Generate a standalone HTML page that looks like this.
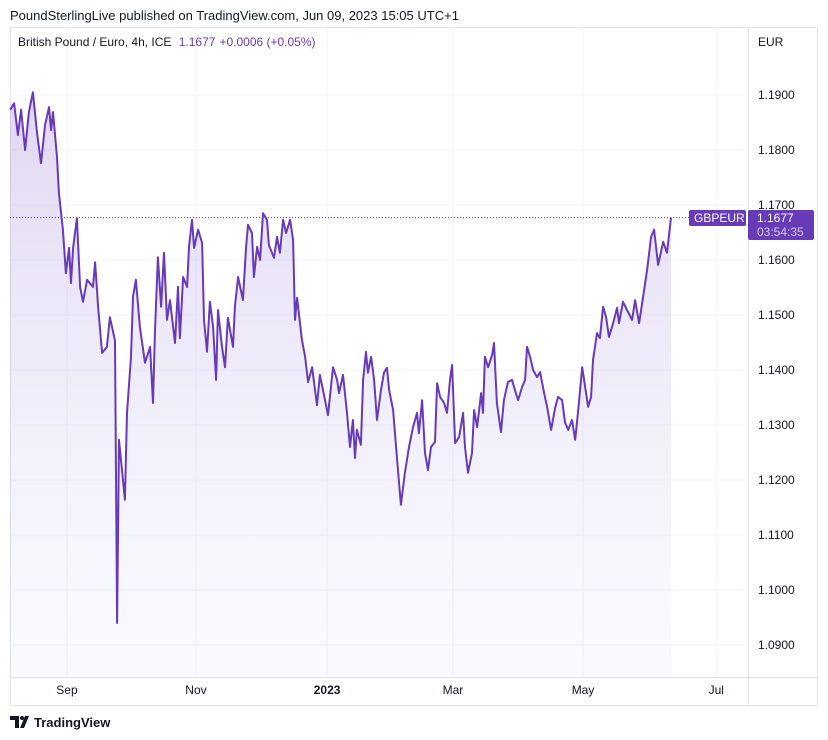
<!DOCTYPE html>
<html><head><meta charset="utf-8"><style>
body{margin:0;background:#fff;width:828px;height:740px;overflow:hidden;font-family:"Liberation Sans",sans-serif}
svg{position:absolute;left:0;top:0}
</style></head><body>
<svg width="828" height="740" id="c">
<text x="10" y="20" font-size="13" fill="#131722">PoundSterlingLive published on TradingView.com, Jun 09, 2023 15:05 UTC+1</text>
<rect x="10.5" y="27.5" width="807" height="678" fill="none" stroke="#e0e3eb"/>
<line x1="748.5" y1="28" x2="748.5" y2="705" stroke="#e0e3eb"/>
<line x1="10" y1="677.5" x2="818" y2="677.5" stroke="#e0e3eb"/>
<g id="grid"></g>
<g id="plot"></g>
<text x="18" y="46" font-size="12" fill="#131722">British Pound / Euro, 4h, ICE <tspan fill="#673ab7" dx="4">1.1677</tspan><tspan fill="#673ab7" dx="4">+0.0006 (+0.05%)</tspan></text>
<text x="758" y="46" font-size="12" fill="#131722">EUR</text>
<g id="yt"></g><g id="xt"></g>
<rect x="689" y="210" width="57" height="16" rx="2" fill="#673ab7"/>
<text x="694" y="222" font-size="12" fill="#fff">GBPEUR</text>
<rect x="748" y="210" width="66" height="30" rx="2" fill="#673ab7"/>
<text x="757" y="222" font-size="12" fill="#fff">1.1677</text>
<text x="757" y="236" font-size="12" fill="#d9ccf0">03:54:35</text>
<g><path d="M10 716h9v12h-4v-8h-5z M20 728l5-12h4l-5 12z" fill="#131722"/><circle cx="22" cy="718" r="2" fill="#131722"/>
<text x="34" y="727" font-size="13" font-weight="bold" fill="#131722">TradingView</text></g>
</svg>
<script>
const days=[4.1,6.0,7.8,9.3,11.2,13.0,14.9,16.8,18.7,20.6,22.5,23.5,24.4,26.3,27.2,29.1,30.5,32.0,32.9,33.9,35.7,37.2,38.6,40.5,43.3,44.3,45.7,47.6,49.9,51.3,53.7,54.7,55.6,58.4,59.4,61.3,62.2,63.6,65.5,67.9,70.3,71.7,72.6,74.0,75.5,76.9,78.3,79.7,82.1,83.5,84.4,85.9,87.8,88.7,90.1,91.1,93.0,94.9,95.8,97.2,98.6,100.1,101.5,102.4,104.3,105.7,107.1,109.5,110.4,111.9,114.2,115.7,116.6,118.5,119.4,120.9,122.3,123.7,125.6,126.5,128.9,130.3,131.7,133.2,134.6,136.5,137.9,138.8,139.8,142.1,143.6,145.0,146.9,149.2,150.6,153.0,154.4,156.8,158.7,159.6,161.5,163.4,164.8,166.2,167.2,168.1,170.0,171.0,172.4,173.3,174.8,176.2,177.6,179.5,180.9,182.3,183.3,185.2,187.0,188.9,190.8,192.7,194.6,196.5,197.4,198.9,200.3,201.7,203.1,205.0,206.0,207.4,209.3,210.7,212.1,213.1,214.5,216.4,218.3,219.2,220.6,222.5,223.5,224.9,226.8,227.7,228.6,230.1,232.0,232.9,234.3,236.2,237.6,239.5,241.4,242.8,244.3,246.2,247.6,248.5,250.0,251.4,253.3,254.7,256.6,258.0,259.9,261.8,263.2,265.1,266.5,268.0,269.8,271.3,272.7,274.6,275.5,277.4,278.8,279.7,281.6,283.0,284.5,285.9,287.3,289.2,291.1,292.0,293.9,295.8,298.2,299.6,301.5,303.4,305.3,307.2,308.6,310.5,312.9,314.7,316.6];
const prices=[1.1873,1.1885,1.1827,1.1873,1.1800,1.1869,1.1905,1.1833,1.1776,1.1845,1.1878,1.1836,1.1869,1.1787,1.1722,1.1655,1.1576,1.1622,1.1558,1.1622,1.1676,1.1551,1.1524,1.1564,1.1551,1.1596,1.1515,1.1431,1.1442,1.1496,1.1453,1.0940,1.1273,1.1164,1.1322,1.1424,1.1533,1.1564,1.1478,1.1413,1.1442,1.1340,1.1467,1.1605,1.1515,1.1613,1.1491,1.1527,1.1449,1.1551,1.1458,1.1569,1.1551,1.1624,1.1673,1.1622,1.1655,1.1631,1.1491,1.1433,1.1524,1.1478,1.1382,1.1509,1.1442,1.1405,1.1495,1.1442,1.1515,1.1569,1.1527,1.1624,1.1664,1.1649,1.1569,1.1624,1.1600,1.1685,1.1673,1.1627,1.1604,1.1642,1.1613,1.1673,1.1649,1.1673,1.1636,1.1491,1.1531,1.1455,1.1424,1.1378,1.1405,1.1336,1.1391,1.1345,1.1318,1.1405,1.1382,1.1358,1.1391,1.1322,1.1260,1.1309,1.1240,1.1291,1.1264,1.1382,1.1433,1.1395,1.1424,1.1382,1.1309,1.1364,1.1395,1.1404,1.1364,1.1327,1.1242,1.1155,1.1213,1.1260,1.1296,1.1322,1.1285,1.1345,1.1249,1.1218,1.1260,1.1269,1.1376,1.1351,1.1340,1.1322,1.1382,1.1409,1.1267,1.1278,1.1322,1.1260,1.1213,1.1249,1.1327,1.1296,1.1358,1.1322,1.1424,1.1405,1.1427,1.1449,1.1340,1.1287,1.1345,1.1378,1.1382,1.1364,1.1345,1.1369,1.1382,1.1442,1.1424,1.1400,1.1387,1.1396,1.1358,1.1333,1.1291,1.1331,1.1351,1.1345,1.1305,1.1291,1.1309,1.1273,1.1327,1.1405,1.1382,1.1333,1.1351,1.1418,1.1467,1.1458,1.1515,1.1496,1.1460,1.1485,1.1513,1.1485,1.1524,1.1509,1.1491,1.1527,1.1485,1.1533,1.1582,1.1642,1.1655,1.1591,1.1633,1.1613,1.1677];
const yTicks=[1.19,1.18,1.17,1.16,1.15,1.14,1.13,1.12,1.11,1.10,1.09];
const xTickDays=[31,92,154,213.5,275,338];
const xTickLabels=["Sep","Nov","2023","Mar","May","Jul"];
const lastPrice=1.1677;
const NS="http://www.w3.org/2000/svg";
const X=d=>1.4+d*2.115;
const Y=v=>95+(1.19-v)*5500;
function mk(t,a,p){const e=document.createElementNS(NS,t);for(const k in a)e.setAttribute(k,a[k]);p.appendChild(e);return e;}
const grid=document.getElementById('grid'),plot=document.getElementById('plot'),yt=document.getElementById('yt'),xt=document.getElementById('xt');
yTicks.forEach(v=>{
 const l=mk('line',{x1:10,x2:748,y1:Y(v),y2:Y(v),stroke:'#f0f3fa'},grid);
 
 
 const t=mk('text',{x:758,y:Y(v)+4,'font-size':12,fill:'#131722'},yt);t.textContent=v.toFixed(4);
 
 
});
xTickDays.forEach((d,i)=>{
 const l=mk('line',{x1:X(d),x2:X(d),y1:28,y2:677,stroke:'#f0f3fa'},grid);
 
 
 const t=mk('text',{x:X(d),y:694,'font-size':12,fill:'#131722','text-anchor':'middle','font-weight':xTickLabels[i]==='2023'?'bold':'normal'},xt);t.textContent=xTickLabels[i];
 
 
});
const defs=mk('defs',{},plot);
const g=mk('linearGradient',{id:'fg',x1:0,y1:0,x2:0,y2:1},defs);
mk('stop',{offset:0,'stop-color':'rgba(150,110,210,0.28)'},g);
mk('stop',{offset:1,'stop-color':'rgba(190,200,245,0.08)'},g);
let pts=days.map((d,i)=>X(d).toFixed(1)+','+Y(prices[i]).toFixed(1));
const area=mk('path',{d:'M'+X(days[0])+',677L'+pts.join('L')+'L'+X(days[days.length-1])+',677Z',fill:'url(#fg)'},plot);


const pl=mk('path',{d:'M'+pts.join('L'),fill:'none',stroke:'#673ab7','stroke-width':2,'stroke-linejoin':'round'},plot);


const ll=mk('line',{x1:10,x2:689,y1:Y(lastPrice),y2:Y(lastPrice),stroke:'#673ab7','stroke-dasharray':'1 2'},plot);


</script>
</body></html>
